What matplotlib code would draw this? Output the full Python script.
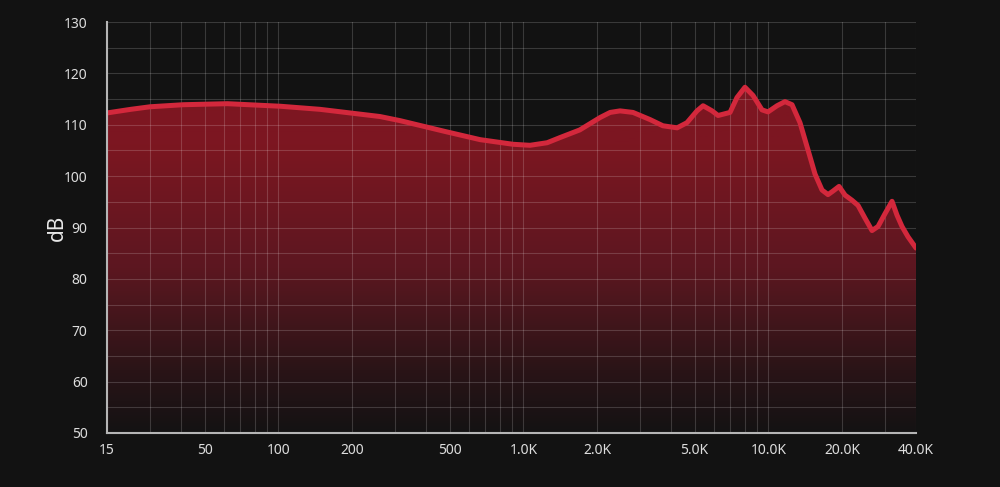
import matplotlib
matplotlib.use('Agg')
import matplotlib.pyplot as plt
import numpy as np
from matplotlib.colors import LinearSegmentedColormap
from matplotlib.ticker import FixedLocator, NullFormatter

plt.rcParams['font.family'] = ['Noto Sans', 'DejaVu Sans']

# frequency response (Hz, dB)
freq = [20, 25, 30, 41, 62, 102, 148, 196, 260, 314, 354, 488, 666, 907,
        1064, 1250, 1410, 1700, 2055, 2260, 2480, 2800, 3290, 3710, 4240,
        4650, 5110, 5410, 5890, 6230, 6970, 7440, 8020, 8650, 9410, 9960,
        10840, 11680, 12480, 13450, 14500, 15490, 16540, 17500, 18350, 19410,
        20540, 21930, 23200, 24780, 26460, 28000, 29900, 31930, 33460, 35070,
        37100, 40000]
db = [112.3, 113.0, 113.5, 113.9, 114.1, 113.6, 113.0, 112.3, 111.6, 110.8,
      110.2, 108.6, 107.1, 106.2, 106.0, 106.5, 107.5, 109.0, 111.4, 112.4,
      112.7, 112.4, 111.0, 109.8, 109.4, 110.4, 112.7, 113.7, 112.7, 111.8,
      112.4, 115.3, 117.3, 115.7, 112.9, 112.5, 113.7, 114.5, 113.9, 110.4,
      105.1, 100.4, 97.3, 96.4, 97.1, 98.0, 96.3, 95.3, 94.3, 91.8, 89.4,
      90.2, 92.7, 95.1, 92.4, 90.2, 88.2, 86.0]

xtick_vals = [20, 50, 100, 200, 500, 1000, 2000, 5000, 10000, 20000, 40000]
xtick_labels = ['15', '50', '100', '200', '500', '1.0K', '2.0K', '5.0K',
                '10.0K', '20.0K', '40.0K']
yticks = [50, 60, 70, 80, 90, 100, 110, 120, 130]

bg = '#121212'
fig = plt.figure(figsize=(10, 4.87), dpi=100, facecolor=bg)
ax = fig.add_axes([0.107, 1 - 433 / 487, 0.809, 411 / 487])
ax.set_facecolor(bg)

x0, x1 = 20, 40000
y0, y1 = 50, 130

# gradient fill clipped to the area under the curve
cmap = LinearSegmentedColormap.from_list('fill', [
    (0.0, '#141213'), (0.15, '#2a1417'), (0.4, '#5c1720'),
    (0.7, '#7c1621'), (1.0, '#821621')])
grad = np.linspace(1, 0, 256).reshape(-1, 1)
img = ax.imshow(grad, cmap=cmap, aspect='auto', extent=[x0, x1, y0, y1],
                origin='upper', zorder=1)
poly = ax.fill_between(freq, db, y0, color='none', zorder=1)
img.set_clip_path(poly.get_paths()[0], transform=ax.transData)

ax.plot(freq, db, color='#d3283c', lw=3.6, solid_capstyle='round',
        solid_joinstyle='round', zorder=3)

ax.set_xscale('log')
ax.set_xlim(x0, x1)
ax.set_ylim(y0, y1)

# grid: every log step on x, every 5 dB on y
vgrid = [m * 10 ** e for e in range(1, 5) for m in range(1, 10)]
vgrid = [v for v in vgrid if x0 < v <= x1]
ax.xaxis.set_minor_locator(FixedLocator(vgrid))
ax.xaxis.set_minor_formatter(NullFormatter())
ax.yaxis.set_minor_locator(FixedLocator(np.arange(55, 131, 5)))
ax.grid(which='both', color='white', alpha=0.17, lw=0.8, zorder=2)
ax.set_axisbelow(False)

ax.set_xticks(xtick_vals)
ax.set_xticklabels(xtick_labels)
ax.set_yticks(yticks)
ax.tick_params(which='both', length=0, colors='#dddddd', labelsize=10)
ax.tick_params(axis='x', pad=7)
ax.tick_params(axis='y', pad=14)

for s in ['top', 'right']:
    ax.spines[s].set_visible(False)
for s in ['left', 'bottom']:
    ax.spines[s].set_color('#b5b5b5')
    ax.spines[s].set_linewidth(1.5)
    ax.spines[s].set_zorder(4)

ax.set_ylabel('dB', color='#e8e8e8', fontsize=15, labelpad=-3)

fig.savefig('out.png', dpi=100, facecolor=bg)
